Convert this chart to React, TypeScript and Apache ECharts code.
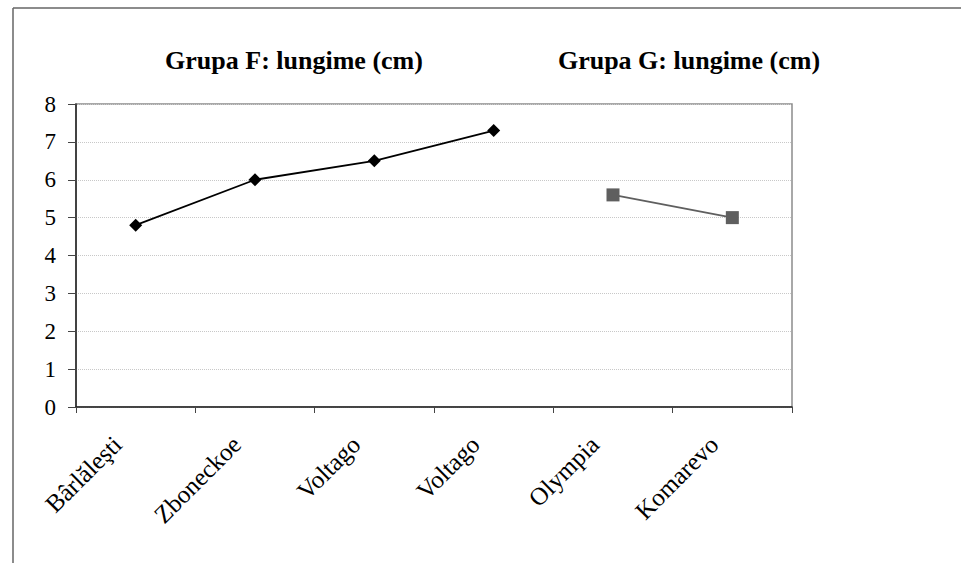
import React, { useEffect, useRef } from "react";
import * as echarts from "echarts";

const categories = ["Bârlăleşti", "Zboneckoe", "Voltago", "Voltago", "Olympia", "Komarevo"];
const groupF = [4.8, 6.0, 6.5, 7.3, null, null];
const groupG = [null, null, null, null, 5.6, 5.0];
const titleF = "Grupa F: lungime (cm)";
const titleG = "Grupa G: lungime (cm)";
const yMin = 0;
const yMax = 8;
const yStep = 1;

const FONT = "Times New Roman, Liberation Serif, DejaVu Serif, serif";

export default function App() {
  const ref = useRef<HTMLDivElement>(null);
  useEffect(() => {
    if (!ref.current) return;
    const chart = echarts.init(ref.current, undefined, { renderer: "svg" });
    chart.setOption({
      animation: false,
      backgroundColor: "#ffffff",
      textStyle: { fontFamily: FONT },
      grid: {
        left: 76,
        top: 104,
        right: 169,
        bottom: 156,
        show: true,
        borderColor: "#8c8c8c",
        borderWidth: 1.5,
        backgroundColor: "transparent",
      },
      graphic: [
        { type: "line", shape: { x1: 13, y1: 8, x2: 961, y2: 8 }, style: { stroke: "#666", lineWidth: 1.5 } },
        { type: "line", shape: { x1: 13, y1: 8, x2: 13, y2: 563 }, style: { stroke: "#666", lineWidth: 1.5 } },
        {
          type: "text",
          x: 294,
          y: 60,
          style: {
            text: titleF,
            fontFamily: FONT,
            fontSize: 26,
            fontWeight: "bold",
            fill: "#000",
            align: "center",
            verticalAlign: "middle",
          },
        },
        {
          type: "text",
          x: 689,
          y: 60,
          style: {
            text: titleG,
            fontFamily: FONT,
            fontSize: 26,
            fontWeight: "bold",
            fill: "#000",
            align: "center",
            verticalAlign: "middle",
          },
        },
      ],
      xAxis: {
        type: "category",
        data: categories,
        boundaryGap: true,
        axisLine: { show: true, lineStyle: { color: "#222", width: 1.5 } },
        axisTick: { show: true, alignWithLabel: false, length: 6, lineStyle: { color: "#444", width: 1 } },
        axisLabel: {
          interval: 0,
          rotate: 45,
          margin: 15,
          padding: [0, 26, 0, 0],
          fontFamily: FONT,
          fontSize: 25,
          color: "#000",
        },
        splitLine: { show: false },
      },
      yAxis: {
        type: "value",
        min: yMin,
        max: yMax,
        interval: yStep,
        axisLine: { show: true, lineStyle: { color: "#222", width: 1.5 } },
        axisTick: { show: true, length: 8, lineStyle: { color: "#444", width: 1 } },
        axisLabel: { margin: 20, fontFamily: FONT, fontSize: 23, color: "#000" },
        splitLine: { show: true, lineStyle: { color: "#c8c8c8", type: "dotted", width: 1 } },
      },
      series: [
        {
          name: "Grupa F",
          type: "line",
          data: groupF,
          symbol: "diamond",
          symbolSize: 13,
          connectNulls: false,
          lineStyle: { color: "#000", width: 1.8 },
          itemStyle: { color: "#000" },
        },
        {
          name: "Grupa G",
          type: "line",
          data: groupG,
          symbol: "rect",
          symbolSize: 13,
          connectNulls: false,
          lineStyle: { color: "#5f5f5f", width: 1.8 },
          itemStyle: { color: "#5f5f5f" },
        },
      ],
    });
    return () => chart.dispose();
  }, []);
  return <div ref={ref} style={{ position: "fixed", left: 0, top: 0, width: 961, height: 563 }} />;
}
